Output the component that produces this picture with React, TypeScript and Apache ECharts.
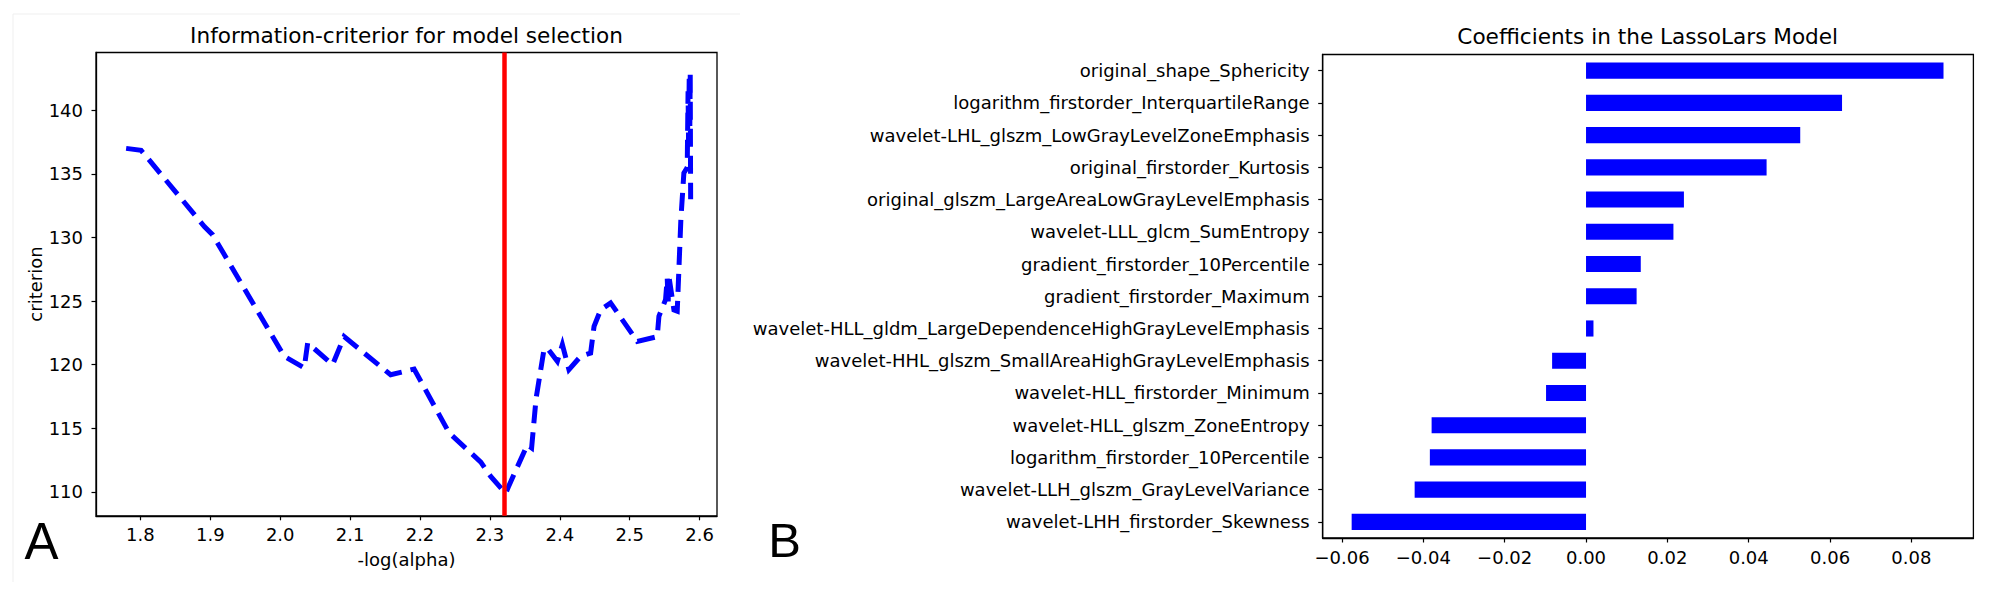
import React, { useEffect, useRef } from "react";
import * as echarts from "echarts";

// ---- Panel A: information criterion path ----
const icAlpha = [
  1.7796, 1.801, 1.8915, 1.9035, 2.0058, 2.0344, 2.0393, 2.075, 2.0915, 2.158,
  2.1916, 2.2417, 2.287, 2.3012, 2.3226, 2.3274, 2.3536, 2.3597, 2.366, 2.3774,
  2.382, 2.3965, 2.4037, 2.4131, 2.4298, 2.4441, 2.449, 2.4584, 2.4727, 2.5109,
  2.5394, 2.5418, 2.5513, 2.5537, 2.555, 2.5562, 2.5633, 2.568, 2.5732, 2.5775,
  2.5823, 2.5835, 2.5842, 2.5852, 2.586, 2.5866, 2.5872,
];
const icCriterion = [
  137.0, 136.85, 130.86, 130.2, 120.65, 119.74, 121.7, 120.0, 122.2, 119.2,
  119.65, 114.63, 112.33, 111.2, 109.87, 110.5, 113.7, 113.45, 117.3, 121.2,
  121.3, 120.26, 121.57, 119.6, 120.65, 120.9, 123.0, 124.3, 124.85, 121.83,
  122.2, 123.8, 125.1, 126.8, 124.8, 126.9, 124.3, 124.2, 131.4, 135.06,
  135.5, 141.5, 137.5, 142.8, 138.5, 142.9, 133.0,
];
const selectedAlpha = 2.3216;
const icXMin = 1.7365;
const icXMax = 2.6249;
const icYMin = 108.11;
const icYMax = 144.54;
const icXTicks = [1.8, 1.9, 2.0, 2.1, 2.2, 2.3, 2.4, 2.5, 2.6];
const icYTicks = [110, 115, 120, 125, 130, 135, 140];

// ---- Panel B: LassoLars coefficients (top to bottom) ----
const featureNames = [
  "original_shape_Sphericity",
  "logarithm_firstorder_InterquartileRange",
  "wavelet-LHL_glszm_LowGrayLevelZoneEmphasis",
  "original_firstorder_Kurtosis",
  "original_glszm_LargeAreaLowGrayLevelEmphasis",
  "wavelet-LLL_glcm_SumEntropy",
  "gradient_firstorder_10Percentile",
  "gradient_firstorder_Maximum",
  "wavelet-HLL_gldm_LargeDependenceHighGrayLevelEmphasis",
  "wavelet-HHL_glszm_SmallAreaHighGrayLevelEmphasis",
  "wavelet-HLL_firstorder_Minimum",
  "wavelet-HLL_glszm_ZoneEntropy",
  "logarithm_firstorder_10Percentile",
  "wavelet-LLH_glszm_GrayLevelVariance",
  "wavelet-LHH_firstorder_Skewness",
];
const coefficients = [
  0.0879, 0.06295, 0.05267, 0.0444, 0.02407, 0.02149, 0.01346, 0.01244,
  0.00183, -0.00834, -0.00983, -0.03797, -0.0384, -0.04214, -0.05763,
];
const coefMin = -0.06475;
const coefMax = 0.09525;
const coefTicks = [-0.06, -0.04, -0.02, 0.0, 0.02, 0.04, 0.06, 0.08];

const FONT = '"DejaVu Sans", sans-serif';
const LABEL_SIZE = 18;
const TITLE_SIZE = 21.6;

export default function App() {
  const ref = useRef<HTMLDivElement>(null);

  useEffect(() => {
    const chart = echarts.init(ref.current!, null, { renderer: "svg" });
    const tickStyle = { color: "#000", width: 1.2 };
    const lineStyle = { color: "#000", width: 1.3 };
    chart.setOption({
      animation: false,
      backgroundColor: "#fff",
      grid: [
        {
          left: 96, top: 52.5, width: 621, height: 463.3,
          show: true, borderColor: "#000", borderWidth: 1.3, backgroundColor: "transparent",
        },
        {
          left: 1322.7, top: 54.5, width: 650.7, height: 483.5,
          show: true, borderColor: "#000", borderWidth: 1.3, backgroundColor: "transparent",
        },
      ],
      xAxis: [
        {
          type: "value", gridIndex: 0, min: icXMin, max: icXMax,
          axisLine: { show: true, onZero: false, lineStyle },
          axisTick: { show: true, length: 4.5, lineStyle: tickStyle, customValues: icXTicks },
          axisLabel: {
            customValues: icXTicks, formatter: (v: number) => v.toFixed(1),
            fontSize: LABEL_SIZE, color: "#000", fontFamily: FONT, margin: 10,
          },
          splitLine: { show: false },
        },
        {
          type: "value", gridIndex: 1, min: coefMin, max: coefMax,
          axisLine: { show: true, onZero: false, lineStyle },
          axisTick: { show: true, length: 4.5, lineStyle: tickStyle, customValues: coefTicks },
          axisLabel: {
            customValues: coefTicks,
            formatter: (v: number) => (v < -1e-9 ? "\u2212" : "") + Math.abs(v).toFixed(2),
            fontSize: LABEL_SIZE, color: "#000", fontFamily: FONT, margin: 10,
          },
          splitLine: { show: false },
        },
      ],
      yAxis: [
        {
          type: "value", gridIndex: 0, min: icYMin, max: icYMax,
          axisLine: { show: true, onZero: false, lineStyle },
          axisTick: { show: true, length: 4.5, lineStyle: tickStyle, customValues: icYTicks },
          axisLabel: {
            customValues: icYTicks, fontSize: LABEL_SIZE, color: "#000", fontFamily: FONT, margin: 13,
          },
          splitLine: { show: false },
        },
        {
          type: "category", gridIndex: 1, data: featureNames, inverse: true,
          axisLine: { show: true, onZero: false, lineStyle },
          axisTick: { show: true, length: 4.5, alignWithLabel: true, lineStyle: tickStyle },
          axisLabel: { fontSize: LABEL_SIZE, color: "#000", fontFamily: FONT, margin: 13, interval: 0 },
          splitLine: { show: false },
        },
      ],
      series: [
        {
          type: "line", xAxisIndex: 0, yAxisIndex: 0,
          data: icAlpha.map((x, i) => [x, icCriterion[i]]),
          symbol: "none", showSymbol: false, z: 2,
          lineStyle: { color: "#0000ff", width: 5, type: [18, 9], cap: "butt", join: "miter" },
        },
        {
          type: "line", xAxisIndex: 0, yAxisIndex: 0, data: [], z: 5,
          markLine: {
            silent: true, symbol: ["none", "none"], label: { show: false },
            lineStyle: { color: "#ff0000", width: 4.5, type: "solid" },
            data: [{ xAxis: selectedAlpha }],
          },
        },
        {
          type: "bar", xAxisIndex: 1, yAxisIndex: 1, data: coefficients,
          barWidth: "50%", itemStyle: { color: "#0000ff" },
        },
      ],
      graphic: [
        {
          type: "polyline", silent: true,
          shape: { points: [[740, 14], [13, 14], [13, 582]] },
          style: { stroke: "#efefef", fill: "none", lineWidth: 1 },
        },
        {
          type: "text", x: 406.5, y: 35,
          style: {
            text: "Information-criterior for model selection", font: `${TITLE_SIZE}px ${FONT}`,
            fill: "#000", align: "center", verticalAlign: "middle",
          },
        },
        {
          type: "text", x: 1647.7, y: 36.7,
          style: {
            text: "Coefficients in the LassoLars Model", font: `${TITLE_SIZE}px ${FONT}`,
            fill: "#000", align: "center", verticalAlign: "middle",
          },
        },
        {
          type: "text", x: 406.5, y: 559.3,
          style: { text: "-log(alpha)", font: `${LABEL_SIZE}px ${FONT}`, fill: "#000", align: "center", verticalAlign: "middle" },
        },
        {
          type: "text", x: 35.4, y: 284, rotation: Math.PI / 2,
          style: { text: "criterion", font: `${LABEL_SIZE}px ${FONT}`, fill: "#000", align: "center", verticalAlign: "middle" },
        },
        {
          type: "text", x: 41.5, y: 541.5,
          style: { text: "A", font: '51px "Liberation Sans", Arial, sans-serif', fill: "#000", align: "center", verticalAlign: "middle" },
        },
        {
          type: "text", x: 784.5, y: 539.5,
          style: { text: "B", font: '49px "Liberation Sans", Arial, sans-serif', fill: "#000", align: "center", verticalAlign: "middle" },
        },
      ],
    });
    return () => chart.dispose();
  }, []);

  return (
    <div
      ref={ref}
      style={{ position: "fixed", left: 0, top: 0, width: 2000, height: 595, background: "#fff" }}
    />
  );
}
